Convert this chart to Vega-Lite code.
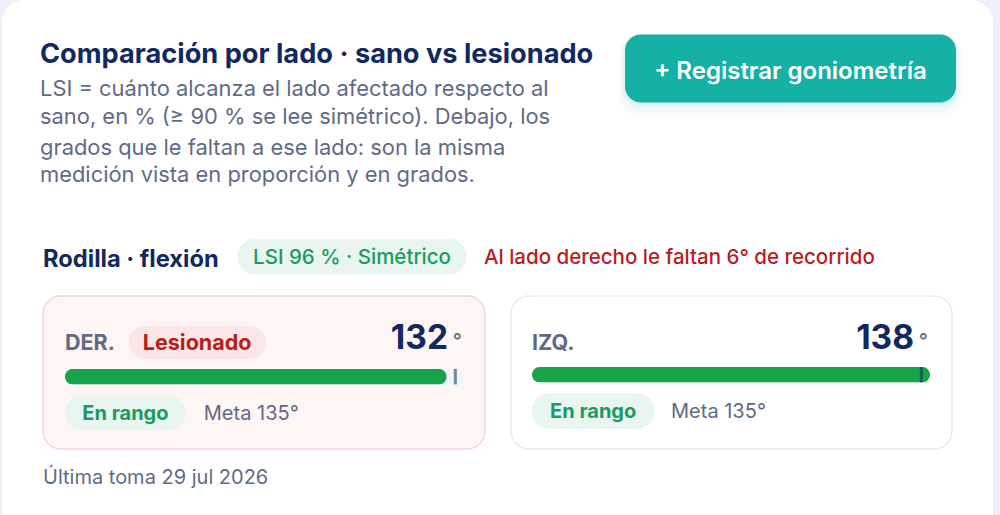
{
  "$schema": "https://vega.github.io/schema/vega-lite/v6.json",
  "padding": 0,
  "background": "#ffffff",
  "spacing": 0,
  "config": {
    "view": {"stroke": null},
    "axis": {"disable": true},
    "legend": {"disable": true},
    "text": {"font": "Inter", "baseline": "middle", "align": "left"}
  },
  "datasets": {
    "lados": [
      {"lado": "DER.", "valor": 132, "meta": 135, "grado": "°", "estado": "Lesionado", "rango": "En rango", "meta_texto": "Meta 135°"},
      {"lado": "IZQ.", "valor": 138, "meta": 135, "grado": "°", "estado": "", "rango": "En rango", "meta_texto": "Meta 135°"}
    ]
  },
  "hconcat": [
    {"width": 2, "height": 515, "data": {"values": [{}]}, "mark": {"type": "rect", "color": "#eef0f9"}, "encoding": {}},
    {
      "spacing": 0,
      "vconcat": [
        {
          "width": 991,
          "height": 295,
          "view": {"fill": "#eef0f9", "stroke": null},
          "data": {"values": [{}]},
          "layer": [
            {
              "mark": {"type": "rect", "color": "#ffffff", "cornerRadiusTopLeft": 22, "cornerRadiusTopRight": 22},
              "encoding": {
                "x": {"datum": 0, "scale": {"domain": [0, 991], "range": [0, 991], "nice": false}},
                "x2": {"datum": 991},
                "y": {"datum": 0, "scale": {"domain": [0, 295], "range": [0, 295], "nice": false}},
                "y2": {"datum": 295}
              }
            },
            {
              "mark": {"type": "rect", "color": "#14b1a4", "opacity": 0.03, "cornerRadius": 22},
              "encoding": {"x": {"datum": 617}, "x2": {"datum": 960}, "y": {"datum": 34}, "y2": {"datum": 116}}
            },
            {
              "mark": {"type": "rect", "color": "#14b1a4", "opacity": 0.04, "cornerRadius": 20},
              "encoding": {"x": {"datum": 619}, "x2": {"datum": 958}, "y": {"datum": 34}, "y2": {"datum": 112}}
            },
            {
              "mark": {"type": "rect", "color": "#14b1a4", "opacity": 0.06, "cornerRadius": 17},
              "encoding": {"x": {"datum": 621}, "x2": {"datum": 956}, "y": {"datum": 34}, "y2": {"datum": 107}}
            },
            {
              "mark": {"type": "rect", "color": "#14b1a4", "cornerRadius": 16},
              "encoding": {"x": {"datum": 623}, "x2": {"datum": 954}, "y": {"datum": 34.5}, "y2": {"datum": 102.5}}
            },
            {
              "mark": {"type": "text", "color": "#ffffff", "fontSize": 24, "fontWeight": 600, "align": "center", "text": "+ Registrar goniometría"},
              "encoding": {"x": {"datum": 788.5}, "y": {"datum": 71.5}}
            },
            {
              "mark": {"type": "text", "color": "#12295f", "fontSize": 27.2, "fontWeight": 700, "text": "Comparación por lado · sano vs lesionado"},
              "encoding": {"x": {"datum": 38}, "y": {"datum": 54.5}}
            },
            {
              "mark": {"type": "text", "color": "#5f6b85", "fontSize": 21.9, "text": "LSI = cuánto alcanza el lado afectado respecto al"},
              "encoding": {"x": {"datum": 38}, "y": {"datum": 89}}
            },
            {
              "mark": {"type": "text", "color": "#5f6b85", "fontSize": 21.9, "text": "sano, en % (≥ 90 % se lee simétrico). Debajo, los"},
              "encoding": {"x": {"datum": 38}, "y": {"datum": 117}}
            },
            {
              "mark": {"type": "text", "color": "#5f6b85", "fontSize": 21.9, "text": "grados que le faltan a ese lado: son la misma"},
              "encoding": {"x": {"datum": 38}, "y": {"datum": 148}}
            },
            {
              "mark": {"type": "text", "color": "#5f6b85", "fontSize": 21.9, "text": "medición vista en proporción y en grados."},
              "encoding": {"x": {"datum": 38}, "y": {"datum": 175}}
            },
            {
              "mark": {"type": "text", "color": "#12295f", "fontSize": 23.7, "fontWeight": 700, "text": "Rodilla · flexión"},
              "encoding": {"x": {"datum": 41}, "y": {"datum": 260}}
            },
            {
              "mark": {"type": "rect", "color": "#e8f6ef", "cornerRadius": 18},
              "encoding": {"x": {"datum": 235}, "x2": {"datum": 465}, "y": {"datum": 239}, "y2": {"datum": 274.5}}
            },
            {
              "mark": {"type": "text", "color": "#1a9a62", "fontSize": 20.5, "fontWeight": 500, "align": "center", "text": "LSI 96 % · Simétrico"},
              "encoding": {"x": {"datum": 350}, "y": {"datum": 258}}
            },
            {
              "mark": {"type": "text", "color": "#b91c1c", "fontSize": 20.5, "fontWeight": 500, "text": "Al lado derecho le faltan 6° de recorrido"},
              "encoding": {"x": {"datum": 482}, "y": {"datum": 258}}
            }
          ]
        },
        {
          "spacing": 24,
          "hconcat": [
            {"width": 16, "height": 153, "data": {"values": [{}]}, "mark": {"type": "rect", "opacity": 0}, "encoding": {}},
            {
              "width": 442,
              "height": 153,
              "view": {"fill": "#fef5f5", "stroke": "#f6d5d5", "strokeWidth": 1.5, "cornerRadius": 18},
              "data": {"name": "lados"},
              "transform": [{"filter": "datum.lado == 'DER.'"}],
              "layer": [
                {
                  "mark": {"type": "bar", "color": "#f1f4fa", "size": 15.5, "cornerRadius": 8, "yOffset": -1},
                  "encoding": {
                    "x": {"datum": 138, "type": "quantitative", "scale": {"domain": [0, 138], "range": [22, 421], "nice": false}},
                    "y": {"datum": "barra", "type": "nominal", "scale": {"type": "point", "domain": ["cabecera", "barra", "pie"], "range": [46.5, 116.8], "padding": 0}}
                  }
                },
                {
                  "mark": {"type": "bar", "color": "#16a34a", "size": 15.5, "cornerRadius": 8, "yOffset": -1},
                  "encoding": {"x": {"field": "valor", "type": "quantitative"}, "y": {"datum": "barra", "type": "nominal"}}
                },
                {
                  "mark": {"type": "tick", "color": "#12295f", "opacity": 0.55, "thickness": 3, "size": 15.5, "yOffset": -1},
                  "encoding": {"x": {"field": "meta", "type": "quantitative"}, "y": {"datum": "barra", "type": "nominal"}}
                },
                {
                  "mark": {"type": "text", "color": "#5f6b85", "fontSize": 21.5, "fontWeight": 700, "dy": 1},
                  "encoding": {"x": {"datum": 0, "type": "quantitative"}, "y": {"datum": "cabecera", "type": "nominal"}, "text": {"field": "lado"}}
                },
                {
                  "mark": {"type": "bar", "color": "#fbe6e6", "size": 33, "cornerRadius": 16},
                  "encoding": {"x": {"datum": 22}, "x2": {"datum": 69.5}, "y": {"datum": "cabecera", "type": "nominal"}}
                },
                {
                  "mark": {"type": "text", "color": "#b91c1c", "fontSize": 21.5, "fontWeight": 700, "align": "center", "dy": 1},
                  "encoding": {"x": {"datum": 45.7, "type": "quantitative"}, "y": {"datum": "cabecera", "type": "nominal"}, "text": {"field": "estado"}}
                },
                {
                  "mark": {"type": "text", "color": "#12295f", "fontSize": 33.5, "fontWeight": 700, "align": "right", "dx": -16, "dy": -3.5},
                  "encoding": {"x": {"datum": 138, "type": "quantitative"}, "y": {"datum": "cabecera", "type": "nominal"}, "text": {"field": "valor", "type": "quantitative"}}
                },
                {
                  "mark": {"type": "text", "color": "#5f6b85", "fontSize": 20, "fontWeight": 500, "align": "right", "dx": -2, "dy": -1},
                  "encoding": {"x": {"datum": 138, "type": "quantitative"}, "y": {"datum": "cabecera", "type": "nominal"}, "text": {"field": "grado"}}
                },
                {
                  "mark": {"type": "bar", "color": "#e8f6ef", "size": 34.5, "cornerRadius": 17},
                  "encoding": {"x": {"datum": 0}, "x2": {"datum": 41.7}, "y": {"datum": "pie", "type": "nominal"}}
                },
                {
                  "mark": {"type": "text", "color": "#1a9a62", "fontSize": 20, "fontWeight": 700, "align": "center", "dy": 1},
                  "encoding": {"x": {"datum": 20.9, "type": "quantitative"}, "y": {"datum": "pie", "type": "nominal"}, "text": {"field": "rango"}}
                },
                {
                  "mark": {"type": "text", "color": "#5f6b85", "fontSize": 20, "fontWeight": 400, "dy": 1},
                  "encoding": {"x": {"datum": 48, "type": "quantitative"}, "y": {"datum": "pie", "type": "nominal"}, "text": {"field": "meta_texto"}}
                }
              ]
            },
            {
              "width": 441,
              "height": 153,
              "view": {"fill": "#ffffff", "stroke": "#e9ebf0", "strokeWidth": 1.5, "cornerRadius": 18},
              "data": {"name": "lados"},
              "transform": [{"filter": "datum.lado == 'IZQ.'"}],
              "layer": [
                {
                  "mark": {"type": "bar", "color": "#f1f4fa", "size": 15.5, "cornerRadius": 8, "yOffset": -1},
                  "encoding": {
                    "x": {"datum": 138, "type": "quantitative", "scale": {"domain": [0, 138], "range": [21, 419], "nice": false}},
                    "y": {"datum": "barra", "type": "nominal", "scale": {"type": "point", "domain": ["cabecera", "barra", "pie"], "range": [44.5, 115], "padding": 0}}
                  }
                },
                {
                  "mark": {"type": "bar", "color": "#16a34a", "size": 15.5, "cornerRadius": 8, "yOffset": -1},
                  "encoding": {"x": {"field": "valor", "type": "quantitative"}, "y": {"datum": "barra", "type": "nominal"}}
                },
                {
                  "mark": {"type": "tick", "color": "#12295f", "opacity": 0.55, "thickness": 3, "size": 15.5, "yOffset": -1},
                  "encoding": {"x": {"field": "meta", "type": "quantitative"}, "y": {"datum": "barra", "type": "nominal"}}
                },
                {
                  "mark": {"type": "text", "color": "#5f6b85", "fontSize": 21.5, "fontWeight": 700, "dy": 3},
                  "encoding": {"x": {"datum": 0, "type": "quantitative"}, "y": {"datum": "cabecera", "type": "nominal"}, "text": {"field": "lado"}}
                },
                {
                  "mark": {"type": "text", "color": "#12295f", "fontSize": 33.5, "fontWeight": 700, "align": "right", "dx": -16, "dy": -1.5},
                  "encoding": {"x": {"datum": 138, "type": "quantitative"}, "y": {"datum": "cabecera", "type": "nominal"}, "text": {"field": "valor", "type": "quantitative"}}
                },
                {
                  "mark": {"type": "text", "color": "#5f6b85", "fontSize": 20, "fontWeight": 500, "align": "right", "dx": -2, "dy": 1},
                  "encoding": {"x": {"datum": 138, "type": "quantitative"}, "y": {"datum": "cabecera", "type": "nominal"}, "text": {"field": "grado"}}
                },
                {
                  "mark": {"type": "bar", "color": "#e8f6ef", "size": 35.5, "cornerRadius": 17},
                  "encoding": {"x": {"datum": 0}, "x2": {"datum": 42.3}, "y": {"datum": "pie", "type": "nominal"}}
                },
                {
                  "mark": {"type": "text", "color": "#1a9a62", "fontSize": 20, "fontWeight": 700, "align": "center", "dy": 1},
                  "encoding": {"x": {"datum": 21.2, "type": "quantitative"}, "y": {"datum": "pie", "type": "nominal"}, "text": {"field": "rango"}}
                },
                {
                  "mark": {"type": "text", "color": "#5f6b85", "fontSize": 20, "fontWeight": 400, "dy": 1},
                  "encoding": {"x": {"datum": 48.2, "type": "quantitative"}, "y": {"datum": "pie", "type": "nominal"}, "text": {"field": "meta_texto"}}
                }
              ]
            }
          ]
        },
        {
          "width": 991,
          "height": 65,
          "data": {"values": [{"texto": "Última toma 29 jul 2026"}]},
          "mark": {"type": "text", "color": "#5f6b85", "fontSize": 20, "fontWeight": 400},
          "encoding": {
            "x": {"datum": 41, "scale": {"domain": [0, 991], "range": [0, 991], "nice": false}},
            "y": {"datum": 28, "scale": {"domain": [0, 65], "range": [0, 65], "nice": false}},
            "text": {"field": "texto"}
          }
        }
      ]
    },
    {"width": 7, "height": 515, "data": {"values": [{}]}, "mark": {"type": "rect", "color": "#eef0f9"}, "encoding": {}}
  ]
}
